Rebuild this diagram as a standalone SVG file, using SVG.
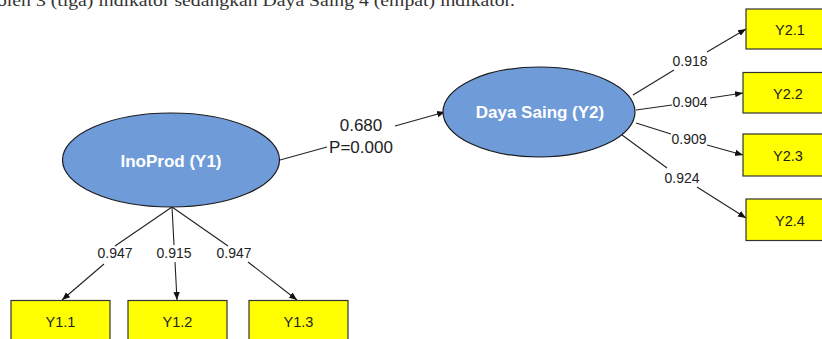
<svg xmlns="http://www.w3.org/2000/svg" width="822" height="339" viewBox="0 0 822 339">
<style>
.lv{fill:#6f9bd9;stroke:#1a1a1a;stroke-width:1.2}
.lvt{font-family:"Liberation Sans",Arial,sans-serif;font-weight:bold;fill:#fff;font-size:17px;text-anchor:middle}
.box{fill:#ffff00;stroke:#333;stroke-width:1.2}
.bt{font-family:"Liberation Sans",Arial,sans-serif;fill:#222;font-size:14.5px;text-anchor:middle}
.ld{font-family:"Liberation Sans",Arial,sans-serif;fill:#222;font-size:14px;text-anchor:middle}
.pt{font-family:"Liberation Sans",Arial,sans-serif;fill:#222;font-size:17px;text-anchor:middle}
.cn{fill:none;stroke:#222;stroke-width:1.1;marker-end:url(#ah)}
.top{font-family:"Liberation Serif","Times New Roman",serif;fill:#333;font-size:17px}
</style>
<defs>
<marker id="ah" viewBox="0 0 10 10" refX="10" refY="5" markerWidth="8" markerHeight="8" markerUnits="userSpaceOnUse" orient="auto">
<path d="M0,1 L10,5 L0,9 z" fill="#111"/>
</marker>
</defs>
<text class="top" x="-3" y="5.5" textLength="518" lengthAdjust="spacingAndGlyphs">oleh 3 (tiga) indikator sedangkan Daya Saing 4 (empat) indikator.</text>
<g id="connectors">
<path class="cn" d="M280,160 L327,147 M395,126 L445,112"/>
<path class="cn" d="M172,207 L115,246 M104,264 L62,300"/>
<path class="cn" d="M172,207 L174,245 M175,262 L177,300"/>
<path class="cn" d="M172,207 L228,246 M248,262 L297,300"/>
<path class="cn" d="M633,95 L674,70 M707,52 L746,29"/>
<path class="cn" d="M636,110 L672,105 M710,98 L743,93"/>
<path class="cn" d="M636,123 L671,134 M707,145 L743,155"/>
<path class="cn" d="M622,135 L667,168 M697,187 L746,218"/>
</g>
<g id="labels">
<text class="pt" x="361" y="131">0.680</text>
<text class="pt" x="361" y="153">P=0.000</text>
<text class="ld" x="115" y="258">0.947</text>
<text class="ld" x="174" y="258">0.915</text>
<text class="ld" x="234" y="258">0.947</text>
<text class="ld" x="690" y="66">0.918</text>
<text class="ld" x="690" y="107">0.904</text>
<text class="ld" x="689" y="144">0.909</text>
<text class="ld" x="682" y="183">0.924</text>
</g>
<g id="Y1">
<ellipse class="lv" cx="171" cy="160" rx="108.5" ry="47"/>
<text class="lvt" x="171" y="167">InoProd (Y1)</text>
</g>
<g id="Y2">
<ellipse class="lv" cx="539" cy="112" rx="96" ry="45"/>
<text class="lvt" x="540" y="118">Daya Saing (Y2)</text>
</g>
<g id="Y1_1"><rect class="box" x="11" y="300.5" width="99" height="50"/><text class="bt" x="60.5" y="326.5">Y1.1</text></g>
<g id="Y1_2"><rect class="box" x="128" y="300.5" width="99" height="50"/><text class="bt" x="177.5" y="326.5">Y1.2</text></g>
<g id="Y1_3"><rect class="box" x="249" y="300.5" width="99" height="50"/><text class="bt" x="298.5" y="326.5">Y1.3</text></g>
<g id="Y2_1"><rect class="box" x="746" y="9" width="90" height="40"/><text class="bt" x="790" y="35">Y2.1</text></g>
<g id="Y2_2"><rect class="box" x="743" y="72.5" width="93" height="40.5"/><text class="bt" x="788" y="98.5">Y2.2</text></g>
<g id="Y2_3"><rect class="box" x="743" y="134" width="93" height="42"/><text class="bt" x="788" y="160.5">Y2.3</text></g>
<g id="Y2_4"><rect class="box" x="746" y="199" width="90" height="41.5"/><text class="bt" x="790" y="225.5">Y2.4</text></g>
</svg>
